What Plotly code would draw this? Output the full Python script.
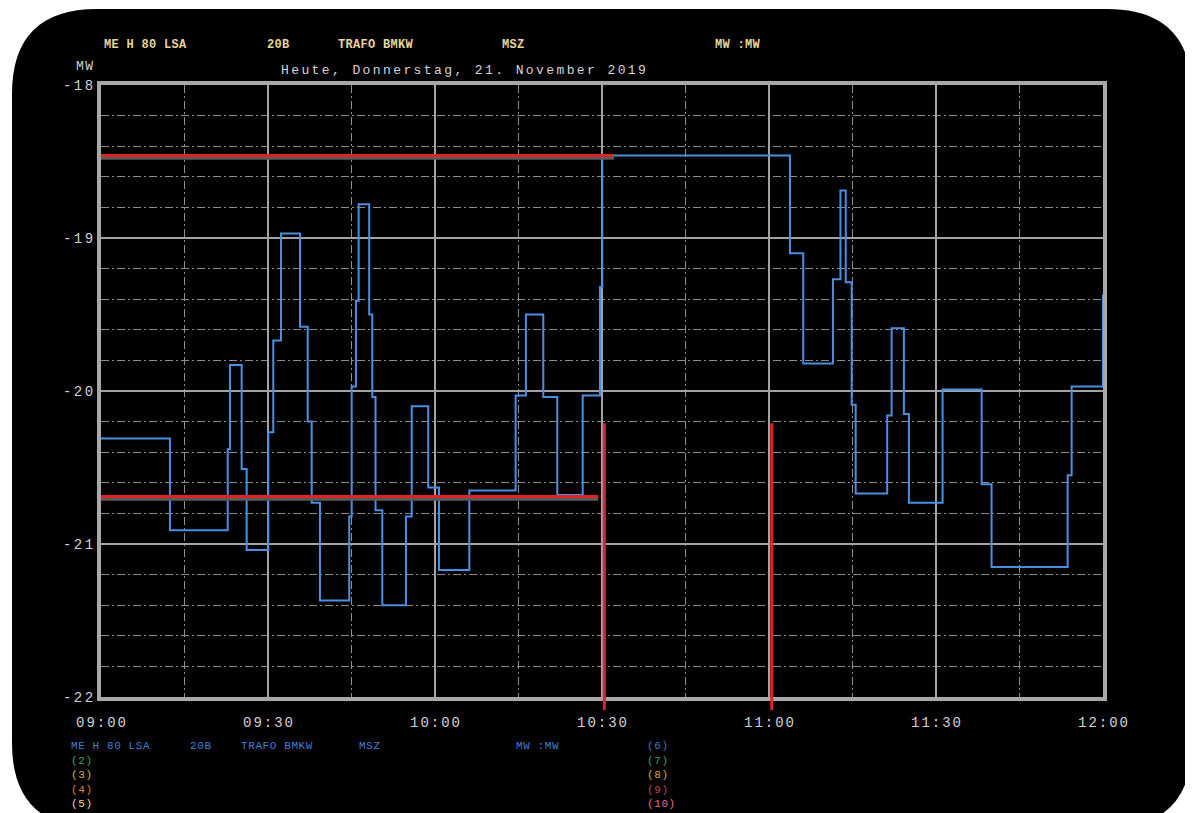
import plotly.graph_objects as go

# ---------------- data ----------------
DAY = "2019-11-21"
step_times = [
    "09:00:00", "09:12:23", "09:22:46", "09:23:10", "09:25:16", "09:26:10",
    "09:30:03", "09:30:57", "09:32:20", "09:35:45", "09:37:08", "09:37:51",
    "09:39:20", "09:44:36", "09:45:02", "09:45:48", "09:46:17", "09:48:11",
    "09:48:44", "09:49:19", "09:50:32", "09:54:47", "09:55:49", "09:58:47",
    "10:00:43", "10:06:10", "10:14:29", "10:16:20", "10:19:27", "10:21:58",
    "10:26:32", "10:29:38", "10:30:03", "11:03:46", "11:06:09", "11:11:29",
    "11:12:50", "11:13:47", "11:14:51", "11:15:34", "11:21:14", "11:22:02",
    "11:24:14", "11:25:08", "11:31:11", "11:38:12", "11:39:59", "11:53:39",
    "11:54:22", "12:00:00",
]
step_values = [
    -20.31, -20.91, -20.38, -19.83, -20.51, -21.04,
    -20.27, -19.67, -18.97, -19.58, -20.20, -20.73,
    -21.37, -20.82, -19.97, -19.41, -18.78, -19.50,
    -20.04, -20.78, -21.40, -20.82, -20.10, -20.63,
    -21.17, -20.65, -20.03, -19.50, -20.04, -20.68,
    -20.03, -19.32, -18.46, -19.10, -19.82, -19.27,
    -18.69, -19.29, -20.09, -20.67, -20.16, -19.59,
    -20.15, -20.73, -19.99, -20.61, -21.15, -20.55,
    -19.97, -19.37,
]

y_ticks = [-22, -21, -20, -19, -18]
y_minor = [-21.8, -21.6, -21.4, -21.2, -20.8, -20.6, -20.4, -20.2,
           -19.8, -19.6, -19.4, -19.2, -18.8, -18.6, -18.4, -18.2]
x_tick_labels = ["09:00", "09:30", "10:00", "10:30", "11:00", "11:30", "12:00"]
x_minor_labels = ["09:15", "09:45", "10:15", "10:45", "11:15", "11:45"]

# red hand-drawn marks
upper_mark_value = -18.46
upper_mark_end = "10:32:10"
lower_mark_value = -20.69
lower_mark_end = "10:29:20"
vertical_mark_times = ["10:30:25", "11:00:30"]
vertical_mark_top = -20.21

header_fields = ["ME H 80 LSA", "20B", "TRAFO BMKW", "MSZ", "MW :MW"]
title_text = "Heute, Donnerstag, 21. November 2019"
unit_text = "MW"
legend_left = ["(2)", "(3)", "(4)", "(5)"]
legend_right = ["(6)", "(7)", "(8)", "(9)", "(10)"]

# ---------------- styling ----------------
OFF = 8                      # page body margin of the html page
W, H = 1193 - OFF, 813 - OFF
PL, PR, PT, PB = 101, 1103, 85, 697   # plot area in reference pixels
MONO = "Liberation Mono"

def px(x):
    return (x - PL) / (PR - PL)

def py(y):
    return (PB - y) / (PB - PT)

def ts(t):
    return f"{DAY} {t}"

def spaced(text, sp):
    if len(text) < 2:
        return text
    return f'<span style="letter-spacing:{sp}px">{text[:-1]}</span>{text[-1]}'

fig = go.Figure()

fig.add_trace(go.Scatter(
    x=[ts(t) for t in step_times], y=step_values,
    mode="lines", line=dict(color="#4b8fe3", width=2, shape="hv"),
    hoverinfo="skip", showlegend=False,
))

shapes = []
def rounded(x0, y0, x1, y1, r):
    pts = [
        f"M {px(x0 + r)},{py(y0)}",
        f"L {px(x1 - r)},{py(y0)}",
        f"Q {px(x1)},{py(y0)} {px(x1)},{py(y0 + r)}",
        f"L {px(x1)},{py(y1 - r)}",
        f"Q {px(x1)},{py(y1)} {px(x1 - r)},{py(y1)}",
        f"L {px(x0 + r)},{py(y1)}",
        f"Q {px(x0)},{py(y1)} {px(x0)},{py(y1 - r)}",
        f"L {px(x0)},{py(y0 + r)}",
        f"Q {px(x0)},{py(y0)} {px(x0 + r)},{py(y0)}",
        "Z",
    ]
    return " ".join(pts)

shapes.append(dict(type="path", xref="paper", yref="paper",
                   path=rounded(12, 9, 1192, 828, 85),
                   fillcolor="#000000", line=dict(width=0), layer="below"))

# red marks with a grey shadow
for val, end, shift in [(upper_mark_value, upper_mark_end, 0.018),
                        (lower_mark_value, lower_mark_end, 0.018)]:
    shapes.append(dict(type="line", xref="x", yref="y",
                       x0=ts("08:58:50"), x1=ts(end), y0=val - shift, y1=val - shift,
                       line=dict(color="#5a5a5a", width=3), layer="above"))
    shapes.append(dict(type="line", xref="x", yref="y",
                       x0=ts("08:58:50"), x1=ts(end), y0=val, y1=val,
                       line=dict(color="#e02424", width=3), layer="above"))
for t in vertical_mark_times:
    shapes.append(dict(type="line", xref="x", yref="paper",
                       x0=ts(t), x1=ts(t),
                       y0=py(PT + (-18 - vertical_mark_top) * (PB - PT) / 4), y1=py(710),
                       line=dict(color="#e02424", width=3), layer="above"))

annotations = []
def note(text, x, y, color, size, bold=False, sp=0):
    t = spaced(text, sp) if sp else text
    if bold:
        t = f"<b>{t}</b>"
    annotations.append(dict(text=t, x=px(x), y=py(y), xref="paper", yref="paper",
                            xanchor="left", yanchor="middle", showarrow=False,
                            borderpad=0,
                            font=dict(family=MONO, size=size, color=color)))

header_x = [103, 266, 337, 501, 714]
for txt, x in zip(header_fields, header_x):
    note(txt, x, 45, "#e6d59b", 12, bold=True, sp=0.3)
note(unit_text, 75, 66, "#d0d0d0", 13, sp=1.5)
note(title_text, 280, 70, "#d6d6d6", 13, sp=2.4)

legend_x = [70, 189, 240, 358, 515]
for txt, x in zip(header_fields, legend_x):
    note(txt, x, 746, "#3f7fd6", 11, sp=0.6)
left_colors = ["#3aa56a", "#d8b346", "#d8843c", "#e9dca4"]
right_colors = ["#3a78c8", "#2f9f7a", "#d9a850", "#b8405c", "#e0708c"]
row_y = [746, 760.5, 775, 789.5, 803.5]
for txt, c, y in zip(legend_left, left_colors, row_y[1:]):
    note(txt, 70, y, c, 11, sp=0.6)
for txt, c, y in zip(legend_right, right_colors, row_y):
    note(txt, 646, y, c, 11, sp=0.6)

fig.update_layout(
    width=W, height=H,
    margin=dict(l=PL - OFF, r=1193 - PR, t=PT - OFF, b=813 - PB),
    paper_bgcolor="#ffffff", plot_bgcolor="#000000",
    shapes=shapes, annotations=annotations,
    showlegend=False,
)

fig.update_xaxes(
    type="date", range=[ts("09:00:00"), ts("12:00:00")],
    tickmode="array",
    tickvals=[ts(t + ":00") for t in x_tick_labels],
    ticktext=[spaced(t, 2) for t in x_tick_labels],
    tickfont=dict(family=MONO, size=14, color="#d2d2d2"),
    ticks="", ticklabelstandoff=9,
    showgrid=True, gridcolor="#a3a3a3", gridwidth=1.5,
    minor=dict(tickmode="array", tickvals=[ts(t + ":00") for t in x_minor_labels],
               showgrid=True, gridcolor="#8c8c8c", gridwidth=1,
               griddash="8px,3px,2px,3px", ticks=""),
    showline=True, mirror=True, linecolor="#a8a8a8", linewidth=4,
    zeroline=False, fixedrange=True,
)
fig.update_yaxes(
    range=[-22, -18],
    tickmode="array", tickvals=y_ticks,
    ticktext=[spaced(str(v), 2.5) for v in y_ticks],
    tickfont=dict(family=MONO, size=14, color="#d2d2d2"),
    ticks="", ticklabelstandoff=1,
    showgrid=True, gridcolor="#a3a3a3", gridwidth=1.5,
    minor=dict(tickmode="array", tickvals=y_minor,
               showgrid=True, gridcolor="#8c8c8c", gridwidth=1,
               griddash="8px,3px,2px,3px", ticks=""),
    showline=True, mirror=True, linecolor="#a8a8a8", linewidth=4,
    zeroline=False, fixedrange=True,
)

fig.write_html("out.html")
